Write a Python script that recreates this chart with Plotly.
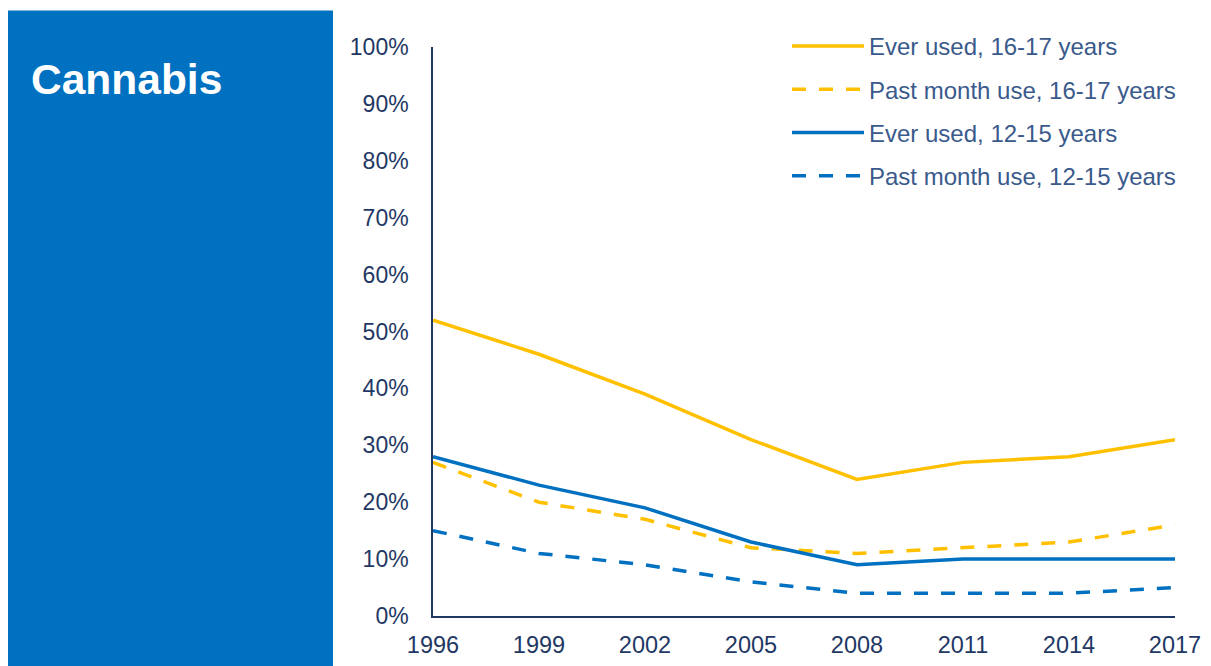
import plotly.graph_objects as go

years = [1996, 1999, 2002, 2005, 2008, 2011, 2014, 2017]
ever_16_17 = [52, 46, 39, 31, 24, 27, 28, 31]
month_16_17 = [27, 20, 17, 12, 11, 12, 13, 16]
ever_12_15 = [28, 23, 19, 13, 9, 10, 10, 10]
month_12_15 = [15, 11, 9, 6, 4, 4, 4, 5]
y_ticks = [0, 10, 20, 30, 40, 50, 60, 70, 80, 90, 100]
y_tick_labels = [f"{v}%" for v in y_ticks]

YELLOW = "#FFC000"
BLUE = "#0070C0"
NAVY = "#1F3864"
LEG = "#3A5A8C"

series = [
    ("Ever used, 16-17 years", ever_16_17, YELLOW, "solid"),
    ("Past month use, 16-17 years", month_16_17, YELLOW, "14px,13px"),
    ("Ever used, 12-15 years", ever_12_15, BLUE, "solid"),
    ("Past month use, 12-15 years", month_12_15, BLUE, "14px,13px"),
]

fig = go.Figure()
for i, (name, vals, col, dash) in enumerate(series):
    fig.add_trace(go.Scatter(
        x=years, y=vals, name=name, mode="lines",
        line=dict(color=col, width=3.5, dash=dash),
        legendgroup=f"g{i}", cliponaxis=False,
    ))

W, H = 1211, 666
L, R, T, B = 425, 44, 39, 58
pw, ph = W - L - R, H - T - B

def px_x(p):
    return (p - L) / pw

def px_y(p):
    return (H - B - p) / ph

fig.add_shape(type="rect", xref="paper", yref="paper",
              x0=px_x(0), x1=px_x(325), y0=px_y(700), y1=px_y(2.5),
              fillcolor=BLUE, line=dict(width=0), layer="below")
fig.add_annotation(xref="paper", yref="paper", x=px_x(21), y=px_y(71),
                   text="<b>Cannabis</b>", showarrow=False, xanchor="left", yanchor="middle",
                   font=dict(family="Liberation Sans, Arial", size=42.5, color="white"))

fig.update_layout(
    width=W, height=H,
    margin=dict(l=L, r=R, t=T, b=B, autoexpand=False),
    paper_bgcolor="white", plot_bgcolor="white",
    font=dict(family="Liberation Sans, Arial", color=NAVY, size=23.5),
    legend=dict(x=px_x(779), y=px_y(16), xanchor="left", yanchor="top",
                font=dict(size=24, color=LEG), itemwidth=72,
                traceorder="grouped", tracegroupgap=9, bgcolor="rgba(0,0,0,0)"),
    xaxis=dict(range=[1996, 2017], tickvals=years, ticktext=[str(y) for y in years],
               showgrid=False, zeroline=False, showline=True, linecolor=NAVY, linewidth=1.5,
               ticks="", tickfont=dict(size=23.5, color=NAVY), ticklabelstandoff=7),
    yaxis=dict(range=[0, 100], tickvals=y_ticks, ticktext=y_tick_labels,
               showgrid=False, zeroline=False, showline=True, linecolor=NAVY, linewidth=1.5,
               ticks="", tickfont=dict(size=23, color=NAVY), ticklabelstandoff=18),
)

fig.write_html("out.html")
